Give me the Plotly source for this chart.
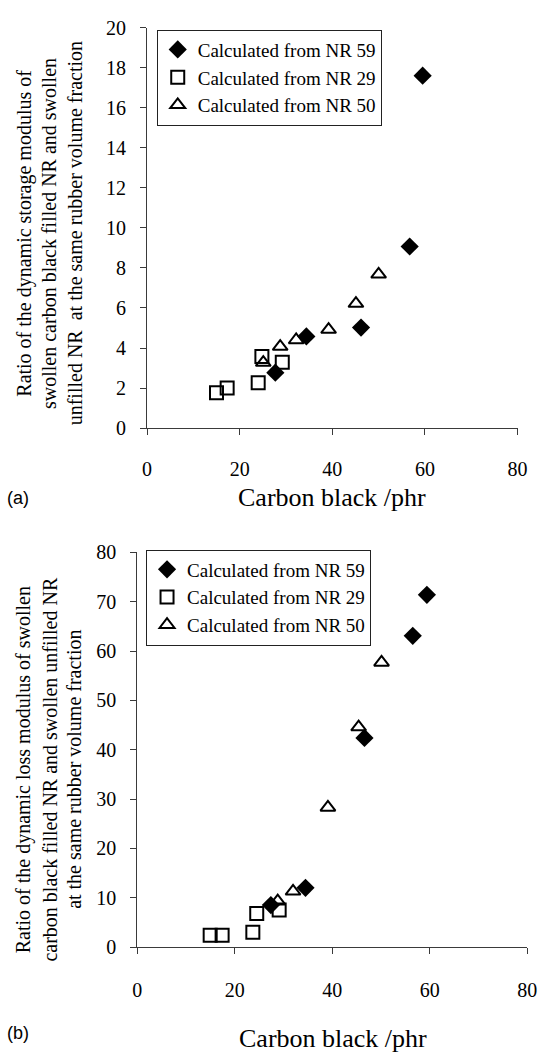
import plotly.graph_objects as go

W, H = 549, 1053

# ---- data (a): dynamic storage modulus ratio ----
a_nr59_x = [27.7, 34.4, 46.2, 56.7, 59.5]
a_nr59_y = [2.77, 4.58, 5.02, 9.07, 17.6]
a_nr29_x = [15.0, 17.3, 24.0, 24.8, 29.2]
a_nr29_y = [1.76, 2.0, 2.26, 3.57, 3.29]
a_nr50_x = [25.1, 28.75, 32.2, 39.2, 45.1, 50.0]
a_nr50_y = [3.27, 4.07, 4.40, 4.92, 6.22, 7.68]

# ---- data (b): dynamic loss modulus ratio ----
b_nr59_x = [27.4, 34.5, 46.6, 56.5, 59.4]
b_nr59_y = [8.5, 12.0, 42.4, 63.1, 71.4]
b_nr29_x = [14.95, 17.4, 23.7, 24.5, 29.1]
b_nr29_y = [2.4, 2.4, 3.0, 6.8, 7.5]
b_nr50_x = [28.8, 31.95, 39.1, 45.4, 50.1]
b_nr50_y = [9.3, 11.3, 28.3, 44.6, 57.7]

series_names = ["Calculated from NR 59", "Calculated from NR 29", "Calculated from NR 50"]
x_ticks = [0, 20, 40, 60, 80]
a_y_ticks = list(range(0, 21, 2))
b_y_ticks = list(range(0, 81, 10))

SERIF = "Liberation Serif"
SANS = "Liberation Sans"
AX = "#3a3a3a"

def px(p):
    return p / W

def py(p):
    return 1 - p / H

styles = [
    dict(symbol="diamond", size=14, color="black", line=dict(width=0)),
    dict(symbol="square-open", size=13, color="black", line=dict(width=2, color="black")),
    dict(symbol="triangle-up-open", size=13, color="black", line=dict(width=2, color="black")),
]

fig = go.Figure()
a_sets = [(a_nr59_x, a_nr59_y), (a_nr29_x, a_nr29_y), (a_nr50_x, a_nr50_y)]
b_sets = [(b_nr59_x, b_nr59_y), (b_nr29_x, b_nr29_y), (b_nr50_x, b_nr50_y)]
for (xs, ys), name, st in zip(a_sets, series_names, styles):
    fig.add_trace(go.Scatter(x=xs, y=ys, mode="markers", name=name, marker=st,
                             xaxis="x", yaxis="y", legend="legend"))
for (xs, ys), name, st in zip(b_sets, series_names, styles):
    fig.add_trace(go.Scatter(x=xs, y=ys, mode="markers", name=name, marker=st,
                             xaxis="x2", yaxis="y2", legend="legend2"))

axis_common = dict(showline=True, linecolor=AX, linewidth=1, ticks="outside",
                   ticklen=6, tickcolor=AX, tickwidth=1, showgrid=False, zeroline=False,
                   tickfont=dict(family=SERIF, size=20, color="black"))

fig.update_layout(
    width=W, height=H,
    margin=dict(l=0, r=0, t=0, b=0),
    paper_bgcolor="white", plot_bgcolor="white",
    font=dict(family=SERIF, color="black"),
    showlegend=True,
    xaxis=dict(domain=[px(146), px(527)], range=[0, 80], tickvals=x_ticks,
               anchor="y", ticklabelstandoff=17, **axis_common),
    yaxis=dict(domain=[py(426), py(17)], range=[0, 20], tickvals=a_y_ticks,
               anchor="x", ticklabelstandoff=10, **axis_common),
    xaxis2=dict(domain=[px(136), px(537)], range=[0, 80], tickvals=x_ticks,
                anchor="y2", ticklabelstandoff=19, **axis_common),
    yaxis2=dict(domain=[py(956), py(553)], range=[0, 80], tickvals=b_y_ticks,
                anchor="x2", ticklabelstandoff=10, **axis_common),
    legend=dict(x=px(156), y=py(19), xanchor="left", yanchor="top",
                bgcolor="white", bordercolor="#222", borderwidth=1,
                font=dict(family=SERIF, size=19, color="black"),
                itemwidth=30, tracegroupgap=0),
    legend2=dict(x=px(145), y=py(550), xanchor="left", yanchor="top",
                 bgcolor="white", bordercolor="#222", borderwidth=1,
                 font=dict(family=SERIF, size=19, color="black"),
                 itemwidth=30, tracegroupgap=0),
)

ann = []
# y titles (a)
a_lines = ["Ratio of the dynamic storage modulus of",
           "swollen carbon black filled NR and swollen",
           "unfilled NR  at the same rubber volume fraction"]
for xc, t in zip([20, 46, 72], a_lines):
    ann.append(dict(text=t, x=px(xc), y=py(227), xref="paper", yref="paper",
                    xanchor="center", yanchor="middle", textangle=-90, showarrow=False,
                    font=dict(family=SERIF, size=20, color="black")))
b_lines = ["Ratio of the dynamic loss modulus of swollen",
           "carbon black filled NR and swollen unfilled NR",
           "at the same rubber volume fraction"]
for xc, t in zip([19, 46, 71], b_lines):
    ann.append(dict(text=t, x=px(xc), y=py(775), xref="paper", yref="paper",
                    xanchor="center", yanchor="middle", textangle=-90, showarrow=False,
                    font=dict(family=SERIF, size=20, color="black")))
# x titles
ann.append(dict(text="Carbon black /phr", x=px(336), y=py(497), xref="paper", yref="paper",
                xanchor="center", yanchor="middle", showarrow=False,
                font=dict(family=SERIF, size=26, color="black")))
ann.append(dict(text="Carbon black /phr", x=px(337), y=py(1049), xref="paper", yref="paper",
                xanchor="center", yanchor="middle", showarrow=False,
                font=dict(family=SERIF, size=26, color="black")))
# panel labels
ann.append(dict(text="(a)", x=px(0), y=py(497), xref="paper", yref="paper",
                xanchor="left", yanchor="middle", showarrow=False,
                font=dict(family=SANS, size=18, color="black")))
ann.append(dict(text="(b)", x=px(0), y=py(1044), xref="paper", yref="paper",
                xanchor="left", yanchor="middle", showarrow=False,
                font=dict(family=SANS, size=18, color="black")))
fig.update_layout(annotations=ann)

fig.write_html("out.html")
